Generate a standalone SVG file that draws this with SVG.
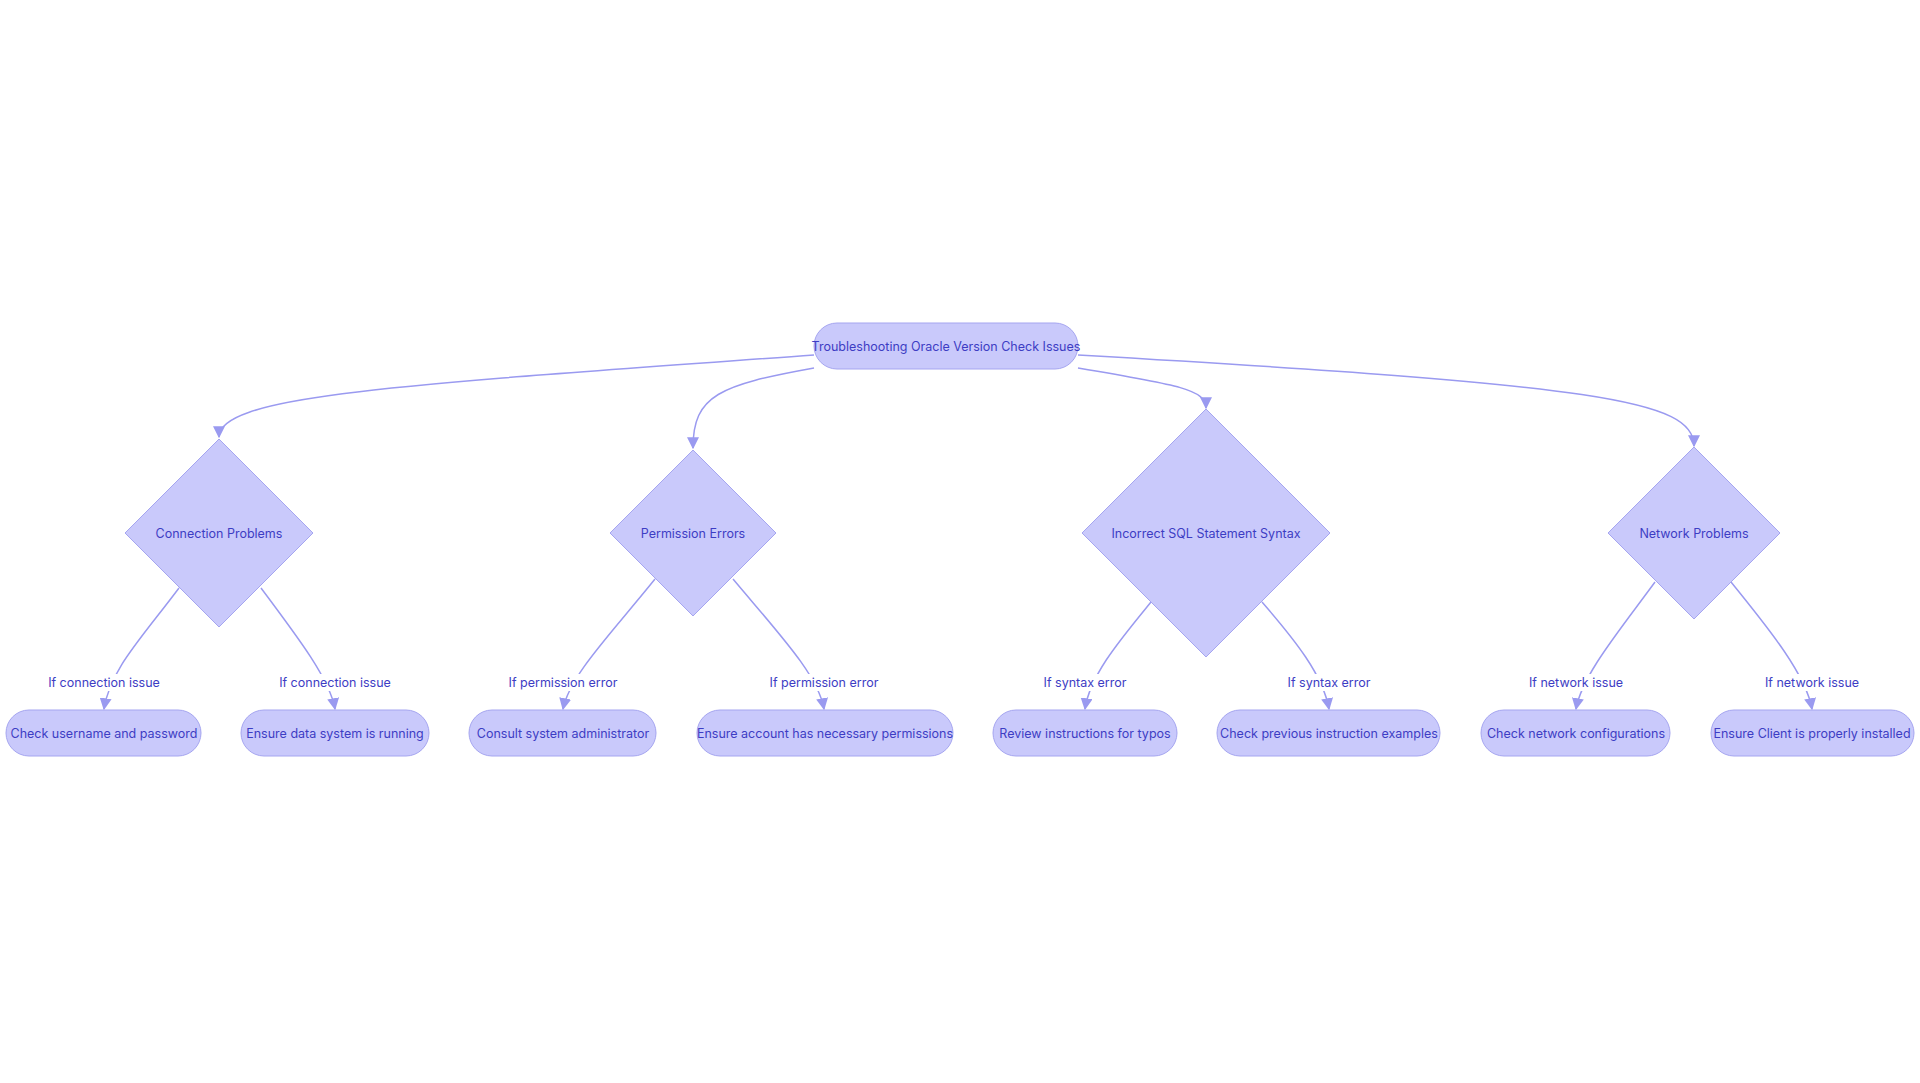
<svg xmlns="http://www.w3.org/2000/svg" width="1920" height="1083" viewBox="0 0 1920 1083">
<style>
.n{fill:#c9c9fb;stroke:#a5a5f0;stroke-width:1}
.t{font-family:Inter,"Liberation Sans",sans-serif;font-size:12.5px;fill:#3d3dc4;text-anchor:middle;dominant-baseline:central}
.e{fill:none;stroke:#9a9af0;stroke-width:1.5;marker-end:url(#a)}
.lb{fill:#fff}
</style>
<defs><marker id="a" viewBox="0 0 10 10" refX="9" refY="5" markerWidth="8" markerHeight="8" orient="auto"><path d="M0,0L10,5L0,10z" fill="#9a9af0"/></marker></defs>
<rect width="1920" height="1083" fill="#fff"/>
<g id="edges">
<path class="e" d="M814,355 C400,385 219,395 219,437"/>
<path class="e" d="M814,368 C720,385 693,395 693,448"/>
<path class="e" d="M1078,368 C1180,385 1206,390 1206,408"/>
<path class="e" d="M1078,355 C1600,385 1694,400 1694,446"/>
<path class="e" d="M179,588 C140,640 110,670 104,709"/>
<path class="e" d="M261,588 C300,640 330,680 335,709"/>
<path class="e" d="M655,579 C610,635 570,675 563,709"/>
<path class="e" d="M733,579 C780,635 818,675 824,709"/>
<path class="e" d="M1151,602 C1120,640 1090,675 1085,709"/>
<path class="e" d="M1262,602 C1295,640 1323,675 1329,709"/>
<path class="e" d="M1655,582 C1620,630 1582,675 1576,709"/>
<path class="e" d="M1731,582 C1770,630 1806,675 1812,709"/>
</g>
<g id="edge-labels">
<rect class="lb" x="52" y="674" width="104" height="17"/><text class="t" x="104" y="682">If connection issue</text>
<rect class="lb" x="283" y="674" width="104" height="17"/><text class="t" x="335" y="682">If connection issue</text>
<rect class="lb" x="513" y="674" width="100" height="17"/><text class="t" x="563" y="682">If permission error</text>
<rect class="lb" x="774" y="674" width="100" height="17"/><text class="t" x="824" y="682">If permission error</text>
<rect class="lb" x="1046" y="674" width="78" height="17"/><text class="t" x="1085" y="682">If syntax error</text>
<rect class="lb" x="1290" y="674" width="78" height="17"/><text class="t" x="1329" y="682">If syntax error</text>
<rect class="lb" x="1533" y="674" width="86" height="17"/><text class="t" x="1576" y="682">If network issue</text>
<rect class="lb" x="1769" y="674" width="86" height="17"/><text class="t" x="1812" y="682">If network issue</text>
</g>
<g id="root"><rect class="n" x="814" y="323" width="264" height="46" rx="23"/><text class="t" x="946" y="346">Troubleshooting Oracle Version Check Issues</text></g>
<g id="d1"><polygon class="n" points="219,439 313,533 219,627 125,533"/><text class="t" x="219" y="533">Connection Problems</text></g>
<g id="d2"><polygon class="n" points="693,450 776,533 693,616 610,533"/><text class="t" x="693" y="533">Permission Errors</text></g>
<g id="d3"><polygon class="n" points="1206,409 1330,533 1206,657 1082,533"/><text class="t" x="1206" y="533">Incorrect SQL Statement Syntax</text></g>
<g id="d4"><polygon class="n" points="1694,447 1780,533 1694,619 1608,533"/><text class="t" x="1694" y="533">Network Problems</text></g>
<g id="l1"><rect class="n" x="6" y="710" width="195" height="46" rx="23"/><text class="t" x="104" y="733">Check username and password</text></g>
<g id="l2"><rect class="n" x="241" y="710" width="188" height="46" rx="23"/><text class="t" x="335" y="733">Ensure data system is running</text></g>
<g id="l3"><rect class="n" x="469" y="710" width="187" height="46" rx="23"/><text class="t" x="563" y="733">Consult system administrator</text></g>
<g id="l4"><rect class="n" x="697" y="710" width="256" height="46" rx="23"/><text class="t" x="825" y="733">Ensure account has necessary permissions</text></g>
<g id="l5"><rect class="n" x="993" y="710" width="184" height="46" rx="23"/><text class="t" x="1085" y="733">Review instructions for typos</text></g>
<g id="l6"><rect class="n" x="1217" y="710" width="223" height="46" rx="23"/><text class="t" x="1329" y="733">Check previous instruction examples</text></g>
<g id="l7"><rect class="n" x="1481" y="710" width="189" height="46" rx="23"/><text class="t" x="1576" y="733">Check network configurations</text></g>
<g id="l8"><rect class="n" x="1711" y="710" width="203" height="46" rx="23"/><text class="t" x="1812" y="733">Ensure Client is properly installed</text></g>
</svg>
